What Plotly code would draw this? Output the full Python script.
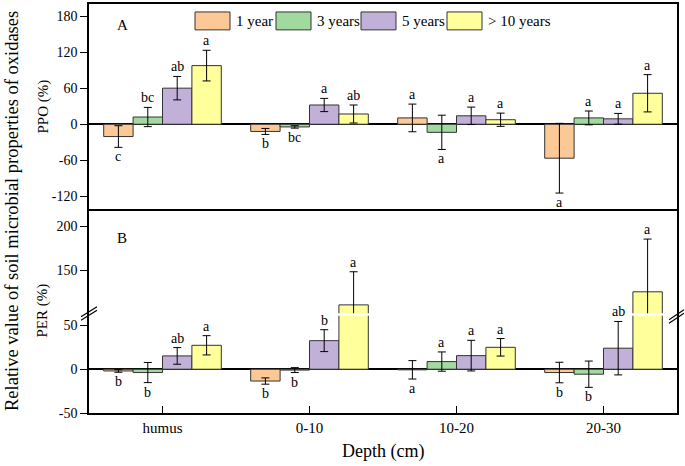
import plotly.graph_objects as go

# ---------------- data ----------------
depths = ["humus", "0-10", "10-20", "20-30"]
series = ["1 year", "3 years", "5 years", "> 10 years"]
colors = ["#FCC896", "#A2D99E", "#C1B1D8", "#FFFF9C"]

# Panel A: PPO (%)
ppo_1yr = [-20.5, -12.0, 10.5, -56.5]
ppo_3yr = [12.0, -4.5, -13.5, 10.5]
ppo_5yr = [60.0, 32.0, 14.0, 9.0]
ppo_10yr = [97.5, 17.0, 7.5, 51.5]
ppo_err_1yr = [18.0, 5.0, 23.0, 58.0]
ppo_err_3yr = [16.0, 2.0, 28.5, 11.5]
ppo_err_5yr = [19.5, 11.0, 14.5, 9.0]
ppo_err_10yr = [25.5, 15.0, 11.0, 31.0]
ppo_sig_1yr = ["c", "b", "a", "a"]
ppo_sig_3yr = ["bc", "bc", "a", "a"]
ppo_sig_5yr = ["ab", "a", "a", "a"]
ppo_sig_10yr = ["a", "ab", "a", "a"]

# Panel B: PER (%)
per_1yr = [-2.0, -13.5, -0.7, -3.8]
per_3yr = [-3.8, -1.0, 8.7, -5.7]
per_5yr = [15.2, 32.6, 15.5, 24.0]
per_10yr = [27.3, 110.0, 25.0, 125.0]
per_err_1yr = [1.5, 3.6, 10.5, 11.7]
per_err_3yr = [11.5, 2.8, 11.0, 15.0]
per_err_5yr = [9.5, 12.5, 17.5, 30.5]
per_err_10yr = [11.0, 38.0, 10.0, 60.5]
per_sig_1yr = ["b", "b", "a", "b"]
per_sig_3yr = ["b", "b", "a", "b"]
per_sig_5yr = ["ab", "b", "a", "ab"]
per_sig_10yr = ["a", "a", "a", "a"]

# tick labels
ppo_ticks = [-120, -60, 0, 60, 120, 180]
ppo_ticktext = ["-120", "-60", "0", "60", "120", "180"]
per_high_ticks = [150, 200]
per_high_ticktext = ["150", "200"]
per_low_ticks = [-50, 0, 50]
per_low_ticktext = ["-50", "0", "50"]

ppo_vals = [ppo_1yr, ppo_3yr, ppo_5yr, ppo_10yr]
ppo_errs = [ppo_err_1yr, ppo_err_3yr, ppo_err_5yr, ppo_err_10yr]
ppo_sigs = [ppo_sig_1yr, ppo_sig_3yr, ppo_sig_5yr, ppo_sig_10yr]
per_vals = [per_1yr, per_3yr, per_5yr, per_10yr]
per_errs = [per_err_1yr, per_err_3yr, per_err_5yr, per_err_10yr]
per_sigs = [per_sig_1yr, per_sig_3yr, per_sig_5yr, per_sig_10yr]

# ---------------- layout constants ----------------
FONT = "Liberation Serif"
W, H = 685, 466
ML, MR, MT, MB = 89, 8, 2, 53
PW, PH = W - ML - MR, H - MT - MB
A_BOTTOM = 0.4988
BREAK = 0.2409
LOW_RANGE = [-50, 62.5]
HIGH_RANGE = [99, 220]
BAR_W = 0.2

fig = go.Figure()

err_style = dict(type="data", visible=True, color="black", thickness=1, width=4)
bar_line = dict(color="#333333", width=1)

for i, name in enumerate(series):
    fig.add_trace(go.Bar(
        x=depths, y=ppo_vals[i], name=name, marker=dict(color=colors[i], line=bar_line),
        error_y=dict(array=ppo_errs[i], **err_style), xaxis="x", yaxis="y",
        showlegend=False))
for ya in ["y2", "y3"]:
    for i, name in enumerate(series):
        fig.add_trace(go.Bar(
            x=depths, y=per_vals[i], name=name, marker=dict(color=colors[i], line=bar_line),
            error_y=dict(array=per_errs[i], **err_style), xaxis="x2", yaxis=ya,
            showlegend=False))

annotations = []
sig_font = dict(family=FONT, size=14, color="black")
for i in range(len(series)):
    off = (i - 1.5) * BAR_W
    for j in range(len(depths)):
        v, e, s = ppo_vals[i][j], ppo_errs[i][j], ppo_sigs[i][j]
        if v >= 0:
            annotations.append(dict(x=j + off, y=v + e, xref="x", yref="y", text=s,
                                    showarrow=False, xanchor="center", yanchor="bottom",
                                    font=sig_font))
        else:
            annotations.append(dict(x=j + off, y=v - e, xref="x", yref="y", text=s,
                                    showarrow=False, xanchor="center", yanchor="top",
                                    font=sig_font))
        v, e, s = per_vals[i][j], per_errs[i][j], per_sigs[i][j]
        if v >= 0:
            top = v + e
            yr = "y2" if top > LOW_RANGE[1] else "y3"
            annotations.append(dict(x=j + off, y=top, xref="x2", yref=yr, text=s,
                                    showarrow=False, xanchor="center", yanchor="bottom",
                                    font=sig_font))
        else:
            annotations.append(dict(x=j + off, y=v - e, xref="x2", yref="y3", text=s,
                                    showarrow=False, xanchor="center", yanchor="top",
                                    font=sig_font))

def px_x(p):
    return (p - ML) / PW

def px_y(p):
    return (H - MB - p) / PH

def label(text, x, y, size, angle=0, xanchor="center", **kw):
    return dict(x=x, y=y, xref="paper", yref="paper", text=text, textangle=angle,
                showarrow=False, xanchor=xanchor, yanchor="middle",
                font=dict(family=FONT, size=size, color="black"), **kw)

# panel letters
annotations.append(label("A", px_x(122), px_y(23), 15))
annotations.append(label("B", px_x(122), px_y(237), 15))
# axis titles
annotations.append(label("Relative value of soil microbial properties of oxidases",
                         0, px_y(210), 18.5, angle=-90, xshift=12 - ML))
annotations.append(label("PPO (%)", 0, px_y(105), 15, angle=-90, xshift=43 - ML))
annotations.append(label("PER (%)", 0, px_y(310), 15, angle=-90, xshift=43 - ML))
annotations.append(label("Depth (cm)", 0.5, 0, 18, yshift=-38))

shapes = []
# custom legend
legend_box_left = [195, 276, 361, 447]
for i, name in enumerate(series):
    x0 = legend_box_left[i]
    shapes.append(dict(type="rect", xref="paper", yref="paper",
                       x0=px_x(x0), x1=px_x(x0 + 35), y0=px_y(28), y1=px_y(10),
                       fillcolor=colors[i], line=dict(color="#333333", width=1)))
    annotations.append(label(name, px_x(x0 + 39), px_y(19), 15, xanchor="left"))

# axis break: white gap over bars and // marks
shapes.append(dict(type="line", xref="paper", yref="paper", x0=px_x(ML + 2), x1=px_x(W - MR - 2),
                   y0=BREAK, y1=BREAK, line=dict(color="white", width=2.5), layer="above"))
for dy in (-1.8, 1.8):
    shapes.append(dict(type="line", xref="paper", yref="paper", xsizemode="pixel",
                       ysizemode="pixel", xanchor=0, yanchor=BREAK,
                       x0=-8, x1=8, y0=-5 + dy + 1, y1=5 + dy + 1,
                       line=dict(color="black", width=1.2), layer="above"))
    shapes.append(dict(type="line", xref="paper", yref="paper", xsizemode="pixel",
                       ysizemode="pixel", xanchor=1, yanchor=BREAK,
                       x0=-8, x1=7, y0=-5 + dy - 2, y1=5 + dy - 2,
                       line=dict(color="black", width=1.2), layer="above"))

axis_common = dict(showline=True, linecolor="black", linewidth=1.5, showgrid=False,
                   tickfont=dict(family=FONT, size=14, color="black"),
                   tickcolor="black", ticklen=7, tickwidth=1.2)
xaxis_common = dict(axis_common)
xaxis_common["tickfont"] = dict(family=FONT, size=15, color="black")

fig.update_layout(
    width=W, height=H,
    margin=dict(l=ML, r=MR, t=MT, b=MB),
    paper_bgcolor="white", plot_bgcolor="white",
    font=dict(family=FONT, size=14, color="black"),
    barmode="group", bargap=0.2, bargroupgap=0,
    showlegend=False,
    xaxis=dict(domain=[0, 1], anchor="y", range=[-0.5, 3.5], type="category",
               showticklabels=False, ticks="", mirror=True, **xaxis_common),
    yaxis=dict(domain=[A_BOTTOM, 1], anchor="x", range=[-141, 200],
               tickvals=ppo_ticks, ticktext=ppo_ticktext, ticks="outside", mirror=True,
               zeroline=True, zerolinecolor="black", zerolinewidth=1.5, **axis_common),
    xaxis2=dict(domain=[0, 1], anchor="y3", range=[-0.5, 3.5], type="category",
                ticks="inside", **xaxis_common),
    yaxis2=dict(domain=[BREAK, A_BOTTOM], anchor="x2", range=HIGH_RANGE,
                tickvals=per_high_ticks, ticktext=per_high_ticktext, ticks="outside",
                mirror=True, zeroline=False, **axis_common),
    yaxis3=dict(domain=[0, BREAK], anchor="x2", range=LOW_RANGE,
                tickvals=per_low_ticks, ticktext=per_low_ticktext, ticks="outside",
                mirror=True, zeroline=True, zerolinecolor="black", zerolinewidth=1.5,
                **axis_common),
    annotations=annotations,
    shapes=shapes,
)

fig.write_html("out.html", config={"displayModeBar": False},
               post_script="document.body.style.margin='0px';")
